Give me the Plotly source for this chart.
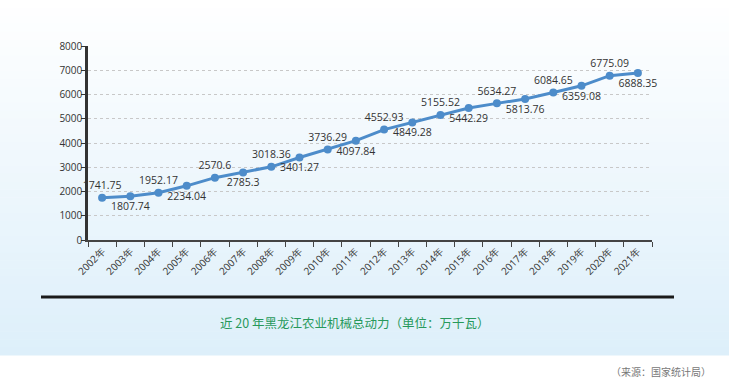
import plotly.graph_objects as go

years = ["2002年","2003年","2004年","2005年","2006年","2007年","2008年","2009年","2010年","2011年",
         "2012年","2013年","2014年","2015年","2016年","2017年","2018年","2019年","2020年","2021年"]
values = [1741.75,1807.74,1952.17,2234.04,2570.6,2785.3,3018.36,3401.27,3736.29,4097.84,
          4552.93,4849.28,5155.52,5442.29,5634.27,5813.76,6084.65,6359.08,6775.09,6888.35]
labels = [f"{v}" for v in values]
y_ticks = [0,1000,2000,3000,4000,5000,6000,7000,8000]
title_text = "近 20 年黑龙江农业机械总动力（单位：万千瓦）"
source_text = "（来源：国家统计局）"

W, H = 729, 388
L, R, T, B = 88, 652, 46, 240
pw, ph = R - L, B - T

def px_x(px):
    return (px - L) / pw

def px_y(py):
    return (B - py) / ph

positions = ["top center" if i % 2 == 0 else "bottom center" for i in range(len(values))]

fig = go.Figure()
fig.add_trace(go.Scatter(
    x=years, y=values, mode="lines+markers+text",
    line=dict(color="#4d8cca", width=3),
    marker=dict(color="#4d8cca", size=8),
    text=labels, textposition=positions,
    textfont=dict(family="Open Sans, DejaVu Sans, sans-serif", size=10.5, color="#333333"),
    cliponaxis=False, hoverinfo="skip", showlegend=False,
))

shapes = []
n = 45
top_c = (255, 255, 255)
bot_c = (221, 239, 250)
gend = 355
for i in range(n):
    y0 = gend * i / n
    y1 = gend * (i + 1) / n
    t = (i + 0.5) / n
    c = tuple(round(top_c[k] + (bot_c[k] - top_c[k]) * t) for k in range(3))
    shapes.append(dict(type="rect", xref="paper", yref="paper",
                       x0=px_x(0), x1=px_x(W), y0=px_y(y1 + 0.5), y1=px_y(y0),
                       fillcolor=f"rgb{c}", line=dict(width=0), layer="below"))
shapes.append(dict(type="line", xref="paper", yref="paper",
                   x0=px_x(41), x1=px_x(674), y0=px_y(297), y1=px_y(297),
                   line=dict(color="#1a1a1a", width=3)))

fig.update_layout(
    width=W, height=H,
    margin=dict(l=L, r=W - R, t=T, b=H - B, pad=0),
    paper_bgcolor="white", plot_bgcolor="rgba(0,0,0,0)",
    shapes=shapes,
    font=dict(family="Open Sans, DejaVu Sans, sans-serif", size=10, color="#333333"),
    annotations=[
        dict(text=title_text, xref="paper", yref="paper", x=px_x(354), y=px_y(322),
             showarrow=False, xanchor="center", yanchor="middle",
             font=dict(family="Noto Sans CJK SC", size=12.5, color="#27995a")),
        dict(text=source_text, xref="paper", yref="paper", x=px_x(713), y=px_y(371),
             showarrow=False, xanchor="right", yanchor="middle",
             font=dict(family="Noto Sans CJK SC", size=10, color="#777777")),
    ],
)
fig.update_xaxes(
    type="category", tickson="boundaries", ticks="outside", ticklen=5, tickcolor="#444",
    showline=True, linecolor="#444", linewidth=1.5, showgrid=False,
    tickangle=-45, tickfont=dict(size=10, color="#333"),
    range=[-0.5, len(years) - 0.5], fixedrange=True, layer="below traces",
)
fig.update_yaxes(
    range=[0, 8000], tickvals=y_ticks, ticks="outside", ticklen=4, tickcolor="#333",
    showline=True, linecolor="#333", linewidth=2.5, zeroline=False,
    showgrid=True, gridcolor="#c8c8c8", griddash="dot", gridwidth=1,
    tickfont=dict(size=10, color="#333"), fixedrange=True, layer="below traces",
    ticklabelstandoff=-3,
)
fig.write_html("out.html", config={"displayModeBar": False},
               post_script="document.body.style.margin='0';document.body.style.overflow='hidden';")
